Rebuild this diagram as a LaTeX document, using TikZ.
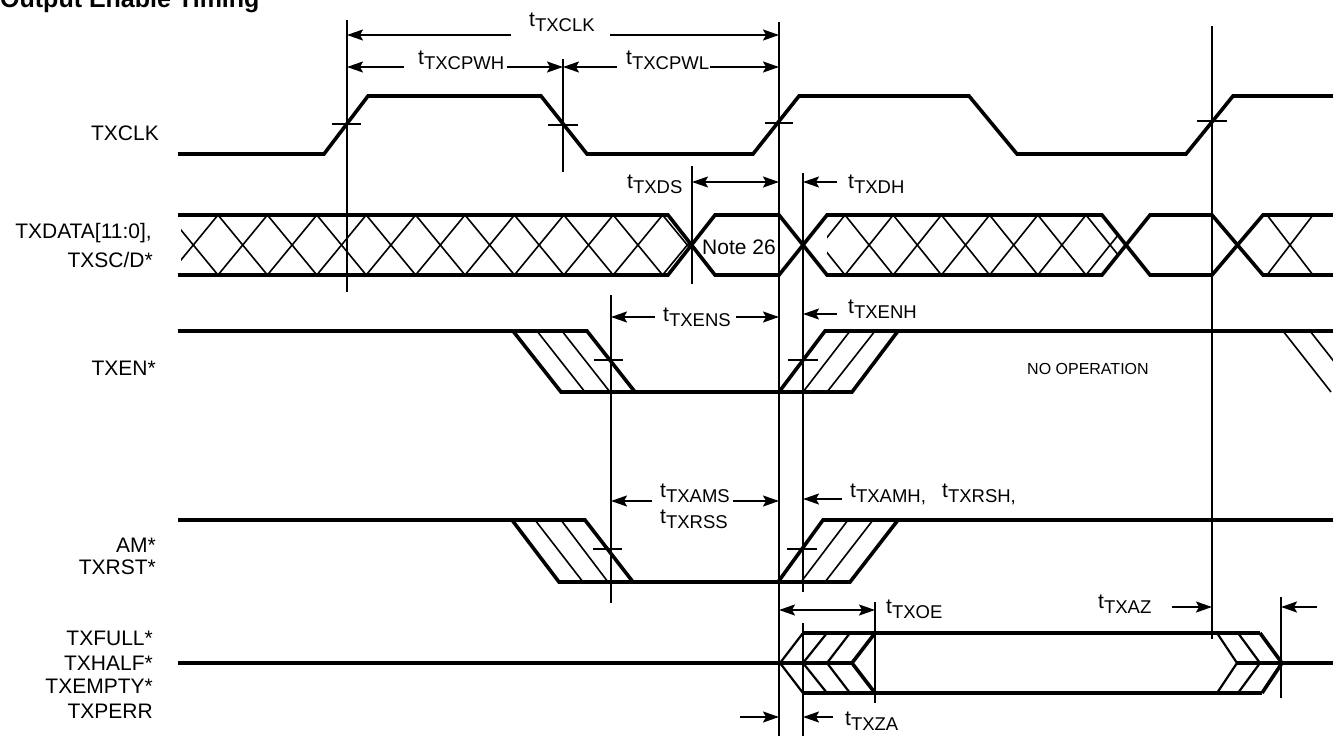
\documentclass[tikz,border=0pt]{standalone}
\usepackage{fontspec}
\setmainfont{Liberation Sans}
\usetikzlibrary{arrows.meta}
\newcommand{\tsub}[1]{t\raisebox{-5pt}{\fontsize{18.5}{19}\selectfont #1}}
\begin{document}
\begin{tikzpicture}[x=1pt,y=-1pt,
  sig/.style={line width=3.6pt},
  hatch/.style={line width=1.6pt},
  mid/.style={line width=2.2pt},
  vline/.style={line width=2pt},
  tick/.style={line width=2pt},
  dim/.style={line width=2pt,-{Stealth[length=16pt,width=11pt,inset=3pt]}},
  dimb/.style={line width=2pt,{Stealth[length=16pt,width=11pt,inset=3pt]}-{Stealth[length=16pt,width=11pt,inset=3pt]}},
  lab/.style={inner sep=0pt, anchor=base east, font=\fontsize{21}{24}\selectfont},
  tl/.style={inner sep=0pt, anchor=base west, font=\fontsize{21}{24}\selectfont}]
\fill[white] (0,0) rectangle (1333,736);
\useasboundingbox (0,0) rectangle (1333,736);

% title
\node[inner sep=0pt, anchor=base west, font=\bfseries\fontsize{25}{27}\selectfont] (title) at (0,8) {Output Enable Timing};

% signal names
\node[lab] (nclk) at (159,140) {TXCLK};
\node[lab] (ndata) at (152,238) {TXDATA[11:0],};
\node[lab] (nsc) at (153,267) {TXSC/D*};
\node[lab] (nen) at (156,375) {TXEN*};
\node[lab] (nam) at (156,552) {AM*};
\node[lab] (nrst) at (156,574) {TXRST*};
\node[lab] (nfull) at (153,645) {TXFULL*};
\node[lab] (nhalf) at (153,670) {TXHALF*};
\node[lab] (nempty) at (153,693) {TXEMPTY*};
\node[lab] (nperr) at (153,718) {TXPERR};

% vertical reference lines
\coordinate (v1t) at (347,20);   \coordinate (v1b) at (347,292);
\coordinate (v2t) at (563,59);   \coordinate (v2b) at (563,172);
\coordinate (v3t) at (779,22);   \coordinate (v3b) at (779,736);
\coordinate (v4t) at (1212,26);  \coordinate (v4b) at (1212,639);
\coordinate (vdst) at (692,166); \coordinate (vdsb) at (692,284);
\coordinate (vdht) at (803,173); \coordinate (vdhb) at (803,592);
\coordinate (vdh2t) at (803,623); \coordinate (vdh2b) at (803,736);
\coordinate (vent) at (611,295); \coordinate (venb) at (611,603);
\coordinate (voet) at (875,602); \coordinate (voeb) at (875,703);
\coordinate (vazt) at (1281,597); \coordinate (vazb) at (1281,698);
\foreach \a/\b in {v1t/v1b,v2t/v2b,v3t/v3b,v4t/v4b,vdst/vdsb,vdht/vdhb,vdh2t/vdh2b,vent/venb,voet/voeb,vazt/vazb}
  \draw[vline] (\a) -- (\b);

% TXCLK
\draw[sig] (178,154) -- (324,154) -- (368,96) -- (541,96) -- (587,154) -- (753,154) -- (799,96) -- (969,96) -- (1017,154) -- (1186,154) -- (1233,96) -- (1333,96);
\draw[tick] (332,124) -- (361,124);
\draw[tick] (548,125) -- (578,125);
\draw[tick] (765,123) -- (793,123);
\draw[tick] (1197,121) -- (1227,121);

% TXDATA
\draw[sig] (178,215) -- (668,215) -- (715,275) -- (779,275) -- (827,215) -- (1102,215) -- (1150,275) -- (1212,275) -- (1263,215) -- (1333,215);
\draw[sig] (178,275) -- (668,275) -- (715,215) -- (779,215) -- (827,275) -- (1102,275) -- (1150,215) -- (1212,215) -- (1263,275) -- (1333,275);
\begin{scope}
  \clip (181,215) -- (668,215) -- (692,245) -- (668,275) -- (181,275) -- cycle;
  \foreach \k in {-1,...,10} {
    \pgfmathsetmacro\xa{218+49.4*\k}
    \draw[hatch] (\xa,215) -- (\xa+49.4,275);
    \draw[hatch] (\xa,215) -- (\xa-49.4,275);
  }
\end{scope}
\begin{scope}
  \clip (827,215) -- (1102,215) -- (1126,245) -- (1102,275) -- (827,275) -- cycle;
  \foreach \k in {-1,...,6} {
    \pgfmathsetmacro\xa{845+48.2*\k}
    \draw[hatch] (\xa,215) -- (\xa+48.2,275);
    \draw[hatch] (\xa,215) -- (\xa-48.2,275);
  }
\end{scope}
\draw[hatch] (1267,215) -- (1313,275);
\draw[hatch] (1313,215) -- (1267,275);
\node[tl] (note) at (702,254) {Note 26};

% TXEN*
\draw[sig] (178,331) -- (587,331) -- (635,392);
\draw[sig] (513,331) -- (561,392) -- (852,392) -- (898,331);
\draw[sig] (779,392) -- (825,331) -- (1333,331);
\draw[hatch] (537,331) -- (585,392);
\draw[hatch] (562,331) -- (610,392);
\draw[hatch] (803,392) -- (850,331);
\draw[hatch] (827,392) -- (875,331);
\begin{scope}
  \clip (1200,320) rectangle (1333,400);
  \draw[hatch] (1283,331) -- (1331,392);
  \draw[hatch] (1310,331) -- (1358,392);
\end{scope}
\draw[tick] (594,360) -- (623,360);
\draw[tick] (788,360) -- (818,360);
\node[inner sep=0pt, anchor=base west, font=\fontsize{16}{18}\selectfont] (noop) at (1027,374) {NO OPERATION};

% AM* / TXRST*
\draw[sig] (178,520) -- (585,520) -- (633,582);
\draw[sig] (512,520) -- (559,582) -- (850,582) -- (898,520);
\draw[sig] (778,582) -- (823,520) -- (1333,520);
\draw[hatch] (535,520) -- (583,582);
\draw[hatch] (561,520) -- (608,582);
\draw[hatch] (801,582) -- (848,520);
\draw[hatch] (825,582) -- (873,520);
\draw[tick] (593,549) -- (622,549);
\draw[tick] (787,549) -- (817,549);

% TXFULL* ...
\draw[sig] (178,663) -- (852,663);
\draw[mid] (803,633) -- (780,663) -- (803,693);
\draw[mid] (827,633) -- (803,663) -- (827,693);
\draw[mid] (850,633) -- (827,663) -- (850,693);
\draw[sig] (875,633) -- (852,663) -- (875,693);
\draw[sig] (803,633) -- (1260,633);
\draw[sig] (803,693) -- (1262,693);
\draw[mid] (1217,633) -- (1237,663) -- (1217,693);
\draw[mid] (1238,633) -- (1260,663) -- (1238,693);
\draw[sig] (1260,633) -- (1282,663) -- (1262,693);
\draw[sig] (1237,663) -- (1333,663);

% dimension arrows and labels
\draw[dim] (511,35) -- (v1b |- 0,35);
\draw[dim] (610,35) -- (v3t |- 0,35);
\node[tl] (lclk) at (529,27) {\tsub{TXCLK}};

\draw[dim] (404,67) -- (v1b |- 0,67);
\draw[dim] (507,67) -- (v2t |- 0,67);
\node[tl] (lpwh) at (418,64) {\tsub{TXCPWH}};
\draw[dim] (617,67) -- (v2t |- 0,67);
\draw[dim] (710,67) -- (v3t |- 0,67);
\node[tl] (lpwl) at (626,64) {\tsub{TXCPWL}};

\draw[dimb] (vdst |- 0,182) -- (v3t |- 0,182);
\node[tl] (lds) at (627,188) {\tsub{TXDS}};
\draw[dim] (837,182) -- (vdht |- 0,182);
\node[tl] (ldh) at (848,188) {\tsub{TXDH}};

\draw[dim] (655,317) -- (vent |- 0,317);
\draw[dim] (736,317) -- (v3t |- 0,317);
\node[tl] (lens) at (663,321) {\tsub{TXENS}};
\draw[dim] (837,314) -- (vdht |- 0,314);
\node[tl] (lenh) at (848,313) {\tsub{TXENH}};

\draw[dim] (652,501) -- (vent |- 0,501);
\draw[dim] (733,501) -- (v3t |- 0,501);
\node[tl] (lams) at (660,497) {\tsub{TXAMS}};
\node[tl] (lrss) at (660,523) {\tsub{TXRSS}};
\draw[dim] (842,499) -- (vdht |- 0,499);
\node[tl] (lamh) at (850,497) {\tsub{TXAMH,}};
\node[tl] (lrsh) at (942,497) {\tsub{TXRSH,}};

\draw[dimb] (v3t |- 0,610) -- (voet |- 0,610);
\node[tl] (loe) at (886,613) {\tsub{TXOE}};

\draw[dim] (1172,607) -- (v4t |- 0,607);
\node[tl] (laz) at (1098,608) {\tsub{TXAZ}};
\draw[dim] (1317,607) -- (vazt |- 0,607);

\draw[dim] (740,717) -- (v3t |- 0,717);
\draw[dim] (833,717) -- (vdh2t |- 0,717);
\node[tl] (lza) at (845,725) {\tsub{TXZA}};
\end{tikzpicture}
\end{document}
